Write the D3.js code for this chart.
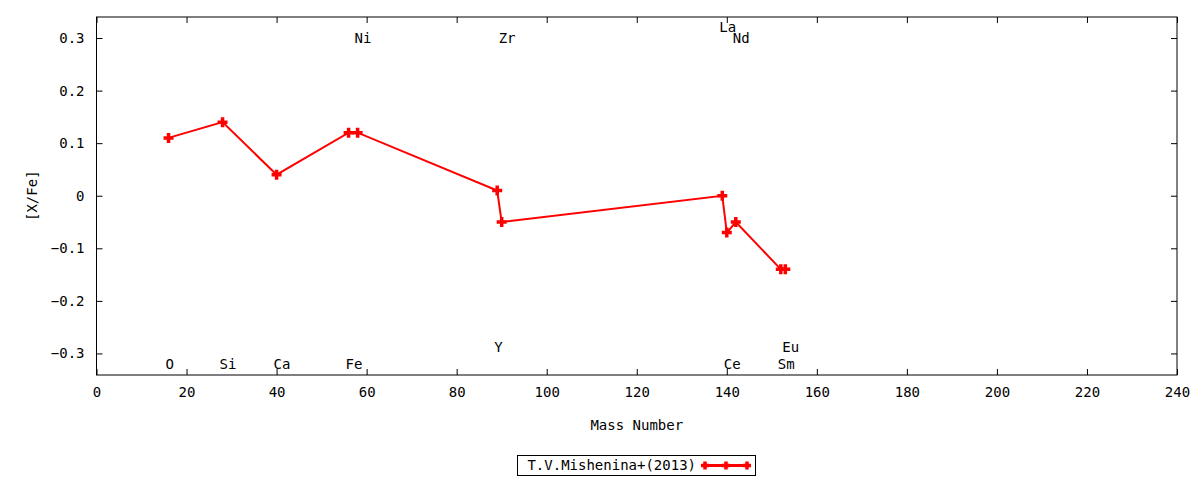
<!DOCTYPE html>
<html>
<head>
<meta charset="utf-8">
<script src="https://cdn.jsdelivr.net/npm/d3@7"></script>
<style>
  body { margin: 0; background: #fff; }
  text { font-family: 'DejaVu Sans Mono', monospace; font-size: 14px; fill: #000; }
</style>
</head>
<body>
<div id="chart"></div>
<script>
  const elements = ['O', 'Si', 'Ca', 'Fe', 'Ni', 'Y', 'Zr', 'La', 'Ce', 'Nd', 'Sm', 'Eu'];
  const massNumbers = [16, 28, 40, 56, 58, 89, 90, 139, 140, 142, 152, 153];
  const abundances = [0.11, 0.14, 0.04, 0.12, 0.12, 0.01, -0.05, 0.0, -0.07, -0.05, -0.14, -0.14];
  // where each element name sits (in [X/Fe] units)
  const labelLevels = [-0.32, -0.32, -0.32, -0.32, 0.3, -0.288, 0.3, 0.32, -0.32, 0.3, -0.32, -0.288];
  const xTicks = d3.range(0, 241, 20);
  const yTicks = [-0.3, -0.2, -0.1, 0, 0.1, 0.2, 0.3];
  const seriesName = 'T.V.Mishenina+(2013)';

  const width = 1200;
  const height = 480;
  const margin = { top: 17, right: 23, bottom: 105, left: 96.5 };

  const svg = d3.select('#chart')
    .append('svg')
    .attr('width', width)
    .attr('height', height);

  const x = d3.scaleLinear().domain([0, 240]).range([margin.left, width - margin.right]);
  const y = d3.scaleLinear().domain([-0.341, 0.34]).range([height - margin.bottom, margin.top]);

  const points = massNumbers.map((m, i) => ({ m, v: abundances[i], name: elements[i], lv: labelLevels[i] }));

  // axes, gnuplot style: inward ticks mirrored on all sides
  const tick = 6;
  svg.append('g')
    .attr('transform', `translate(0,${y.range()[0]})`)
    .call(d3.axisBottom(x).tickValues(xTicks).tickSize(-tick).tickPadding(12).tickFormat(d3.format('d')))
    .call(g => g.select('.domain').remove());
  svg.append('g')
    .attr('transform', `translate(0,${y.range()[1]})`)
    .call(d3.axisTop(x).tickValues(xTicks).tickSize(-tick).tickFormat(''))
    .call(g => g.select('.domain').remove());
  svg.append('g')
    .attr('transform', `translate(${x.range()[0]},0)`)
    .call(d3.axisLeft(y).tickValues(yTicks).tickSize(-tick).tickPadding(12).tickFormat(d => d === 0 ? '0' : d3.format('.1f')(d)))
    .call(g => g.select('.domain').remove());
  svg.append('g')
    .attr('transform', `translate(${x.range()[1]},0)`)
    .call(d3.axisRight(y).tickValues(yTicks).tickSize(-tick).tickFormat(''))
    .call(g => g.select('.domain').remove());

  svg.selectAll('.tick text').style('font-family', "'DejaVu Sans Mono', monospace").style('font-size', '14px');

  svg.append('rect')
    .attr('x', x.range()[0])
    .attr('y', y.range()[1])
    .attr('width', x.range()[1] - x.range()[0])
    .attr('height', y.range()[0] - y.range()[1])
    .attr('fill', 'none')
    .attr('stroke', '#000');

  // axis titles
  svg.append('text')
    .attr('x', (x.range()[0] + x.range()[1]) / 2)
    .attr('y', 430)
    .attr('text-anchor', 'middle')
    .text('Mass Number');
  svg.append('text')
    .attr('transform', `translate(37,${y(0)}) rotate(-90)`)
    .attr('text-anchor', 'middle')
    .text('[X/Fe]');

  // element names
  svg.append('g')
    .selectAll('text')
    .data(points)
    .join('text')
    .attr('x', d => x(d.m) - 3)
    .attr('y', d => y(d.lv))
    .attr('dy', '0.35em')
    .text(d => d.name);

  // series
  const line = d3.line().x(d => x(d.m)).y(d => y(d.v));
  svg.append('path')
    .datum(points)
    .attr('d', line)
    .attr('fill', 'none')
    .attr('stroke', '#f00')
    .attr('stroke-width', 2);

  const plus = (g, s) => g.append('path')
    .attr('d', `M${-s},0H${s}M0,${-s}V${s}`)
    .attr('stroke', '#f00')
    .attr('stroke-width', 3.5)
    .attr('fill', 'none');

  svg.append('g')
    .selectAll('g')
    .data(points)
    .join('g')
    .attr('transform', d => `translate(${x(d.m)},${y(d.v)})`)
    .each(function() { plus(d3.select(this), 5); });

  // legend
  const legend = svg.append('g');
  legend.append('rect')
    .attr('x', 517.5).attr('y', 455.5)
    .attr('width', 238).attr('height', 20)
    .attr('fill', 'none').attr('stroke', '#000');
  legend.append('text')
    .attr('x', 696).attr('y', 465.5)
    .attr('dy', '0.35em')
    .attr('text-anchor', 'end')
    .text(seriesName);
  legend.append('line')
    .attr('x1', 705).attr('x2', 747)
    .attr('y1', 465.5).attr('y2', 465.5)
    .attr('stroke', '#f00').attr('stroke-width', 3);
  [705, 726, 747].forEach(px => {
    plus(legend.append('g').attr('transform', `translate(${px},465.5)`), 4);
  });
</script>
</body>
</html>
